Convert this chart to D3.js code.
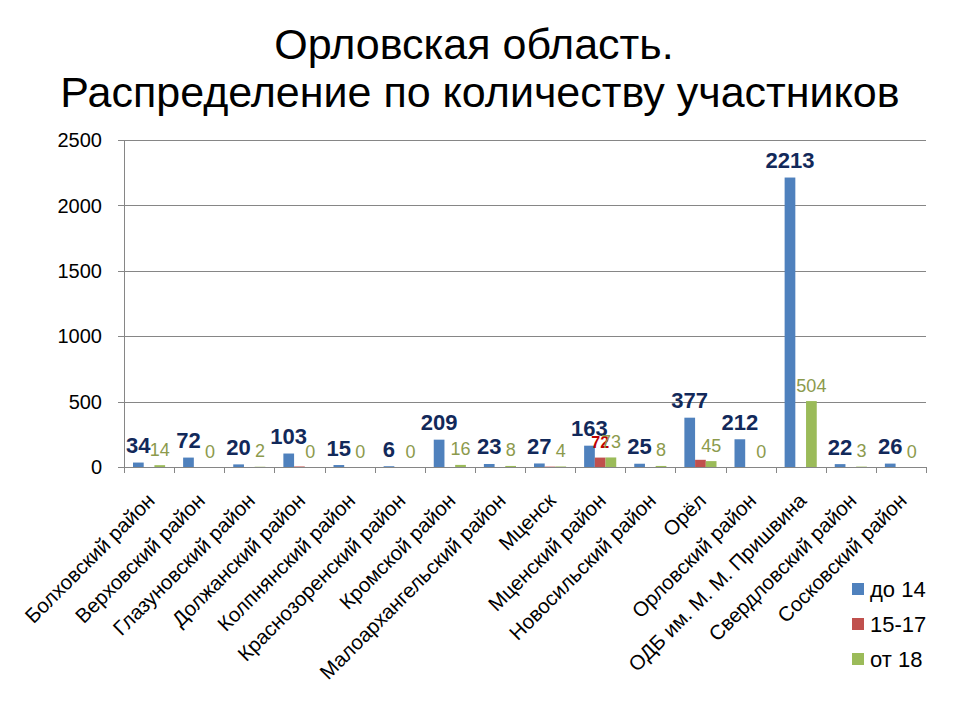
<!DOCTYPE html>
<html>
<head>
<meta charset="utf-8">
<script src="https://cdn.jsdelivr.net/npm/d3@7"></script>
<style>
  body { margin: 0; background: #fff; }
  text { font-family: Arial, "Liberation Sans", sans-serif; }
</style>
</head>
<body>
<svg id="viz"></svg>
<script>
const svg = d3.select("#viz");

const width = 960;
const height = 720;

// Data
const districts = [
  "Болховский район", "Верховский район", "Глазуновский район", "Должанский район",
  "Колпнянский район", "Краснозоренский район", "Кромской район", "Малоархангельский район",
  "Мценск", "Мценский район", "Новосильский район", "Орёл",
  "Орловский район", "ОДБ им. М. М. Пришвина", "Свердловский район", "Сосковский район"
];
const seriesNames = ["до 14", "15-17", "от 18"];
const under14 = [34, 72, 20, 103, 15, 6, 209, 23, 27, 163, 25, 377, 212, 2213, 22, 26];
const age15to17 = [0, 0, 0, 4, 0, 0, 0, 0, 3, 72, 0, 55, 0, 0, 0, 0];
const over18 = [14, 0, 2, 0, 0, 0, 16, 8, 4, 73, 8, 45, 0, 504, 3, 0];
const redLabelled = ["Мценский район"];   // only this red label is shown
const yTicks = [0, 500, 1000, 1500, 2000, 2500];

const colors = ["#4f81bd", "#c0504d", "#9bbb59"];
const labelColors = ["#12295a", "#c00000", "#8c9a4c"];

svg.attr("width", width).attr("height", height);

const plotLeft = 124, plotRight = 926, plotTop = 140, plotBottom = 467;

const x0 = d3.scaleBand().domain(districts).range([plotLeft, plotRight]);
const x1 = d3.scaleBand().domain(seriesNames).range([9, x0.bandwidth() - 9]);
const y = d3.scaleLinear().domain([0, 2500]).range([plotBottom, plotTop]);

// title
svg.append("text")
  .attr("x", 474).attr("y", 59)
  .attr("text-anchor", "middle")
  .attr("font-size", 43)
  .text("Орловская область.");
svg.append("text")
  .attr("x", 480).attr("y", 107)
  .attr("text-anchor", "middle")
  .attr("font-size", 43)
  .text("Распределение по количеству участников");

// gridlines
svg.append("g")
  .selectAll("line")
  .data(yTicks)
  .join("line")
  .attr("x1", plotLeft - 6).attr("x2", plotRight)
  .attr("y1", d => Math.round(y(d)) + 0.5).attr("y2", d => Math.round(y(d)) + 0.5)
  .attr("stroke", "#868686");

// y axis
svg.append("line")
  .attr("x1", plotLeft + 0.5).attr("x2", plotLeft + 0.5)
  .attr("y1", plotTop).attr("y2", plotBottom)
  .attr("stroke", "#868686");

svg.append("g")
  .selectAll("text")
  .data(yTicks)
  .join("text")
  .attr("x", 102)
  .attr("y", d => y(d))
  .attr("dy", "0.36em")
  .attr("text-anchor", "end")
  .attr("font-family", "DejaVu Sans")
  .attr("font-size", 20)
  .text(d => d);

// x ticks at category boundaries
const bounds = districts.map(d => x0(d)).concat([plotRight]);
svg.append("g")
  .selectAll("line")
  .data(bounds)
  .join("line")
  .attr("x1", d => Math.round(d) + 0.5).attr("x2", d => Math.round(d) + 0.5)
  .attr("y1", plotBottom).attr("y2", plotBottom + 6)
  .attr("stroke", "#868686");

// x labels
svg.append("g")
  .selectAll("text")
  .data(districts)
  .join("text")
  .attr("transform", d => `translate(${x0(d) + x0.bandwidth() / 2 + 7},${plotBottom + 35}) rotate(-45)`)
  .attr("text-anchor", "end")
  .attr("font-size", 20.5)
  .text(d => d);

// bars
const series = [under14, age15to17, over18];
const rows = [];
districts.forEach((d, i) => {
  seriesNames.forEach((s, j) => {
    rows.push({ district: d, s, j, value: series[j][i] });
  });
});

svg.append("g")
  .selectAll("rect")
  .data(rows.filter(r => r.value > 0))
  .join("rect")
  .attr("x", r => x0(r.district) + x1(r.s))
  .attr("y", r => y(r.value))
  .attr("width", x1.bandwidth())
  .attr("height", r => y(0) - y(r.value))
  .attr("fill", r => colors[r.j]);

// data labels
const labelRows = rows.filter(r => r.j !== 1 || redLabelled.includes(r.district));
svg.append("g")
  .selectAll("text")
  .data(labelRows)
  .join("text")
  .attr("x", r => x0(r.district) + x1(r.s) + x1.bandwidth() / 2)
  .attr("y", r => y(r.value) - 9.5)
  .attr("text-anchor", "middle")
  .attr("font-size", r => r.j === 0 ? 22 : (r.j === 1 ? 16 : 18))
  .attr("font-weight", r => r.j === 2 ? "normal" : "bold")
  .attr("fill", r => labelColors[r.j])
  .text(r => r.value);

// legend
const legend = svg.append("g")
  .selectAll("g")
  .data(seriesNames)
  .join("g")
  .attr("transform", (d, i) => `translate(852,${589 + i * 35})`);
legend.append("rect")
  .attr("x", 0).attr("y", -6)
  .attr("width", 12).attr("height", 12)
  .attr("fill", (d, i) => colors[i]);
legend.append("text")
  .attr("x", 18)
  .attr("y", 0)
  .attr("dy", "0.36em")
  .attr("font-size", 22)
  .text(d => d);
</script>
</body>
</html>
